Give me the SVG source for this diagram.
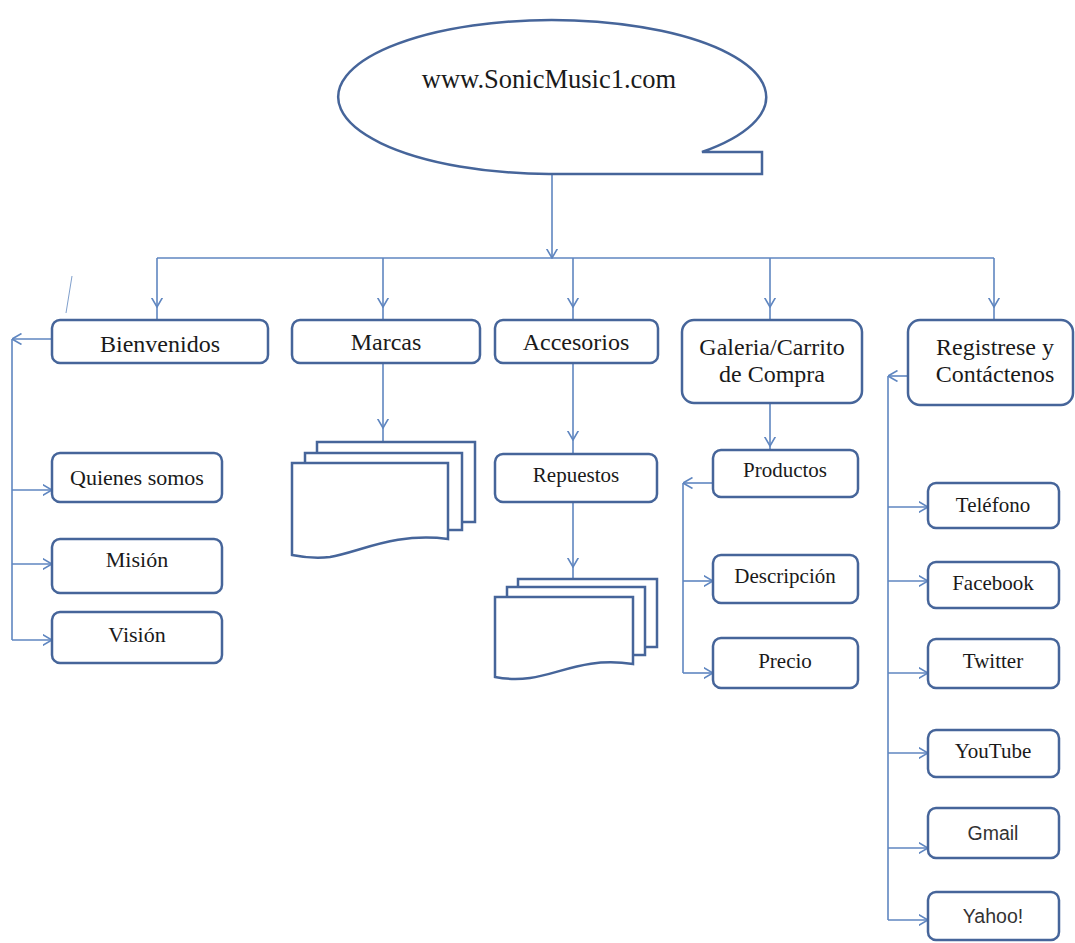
<svg xmlns="http://www.w3.org/2000/svg" width="1075" height="943" viewBox="0 0 1075 943">
<style>
.box{fill:#fff;stroke:#46659a;stroke-width:2.5}
.doc{fill:#fff;stroke:#46659a;stroke-width:2.5;stroke-linejoin:miter}
.ln{fill:none;stroke:#5f86c0;stroke-width:1.6}
.t{font-family:"Liberation Serif","Times New Roman",serif;fill:#1a1a1a;text-anchor:middle}
.top{font-size:24px}
.sub{font-size:21px}
.l{font-size:22px}
.s{font-family:"Liberation Sans",Arial,sans-serif;font-size:19.5px;fill:#333;text-anchor:middle}
</style>
<defs>
<marker id="arr" viewBox="0 0 10 12" refX="9.5" refY="6" markerWidth="10" markerHeight="12" markerUnits="userSpaceOnUse" orient="auto">
<path d="M0,0.5 L9.5,6 L0,11.5" fill="none" stroke="#5f86c0" stroke-width="1.6"/>
</marker>
</defs>
<rect width="1075" height="943" fill="#fff"/>
<g id="connectors">
<path class="ln" d="M552,174 V258" marker-end="url(#arr)"/>
<path class="ln" d="M157,258 H994"/>
<path class="ln" d="M157,258 V307 V320" marker-mid="url(#arr)"/>
<path class="ln" d="M383,258 V307 V320" marker-mid="url(#arr)"/>
<path class="ln" d="M573,258 V307 V320" marker-mid="url(#arr)"/>
<path class="ln" d="M770,258 V307 V320" marker-mid="url(#arr)"/>
<path class="ln" d="M994,258 V307 V320" marker-mid="url(#arr)"/>
<path class="ln" d="M383,363 V428 V442" marker-mid="url(#arr)"/>
<path class="ln" d="M573,363 V440 V454" marker-mid="url(#arr)"/>
<path class="ln" d="M573,502 V567 V579" marker-mid="url(#arr)"/>
<path class="ln" d="M770,403 V446 V450" marker-mid="url(#arr)"/>
<path class="ln" d="M52,339 H12" marker-end="url(#arr)"/>
<path class="ln" d="M12,339 V640"/>
<path class="ln" d="M12,490 H52" marker-end="url(#arr)"/>
<path class="ln" d="M12,564 H52" marker-end="url(#arr)"/>
<path class="ln" d="M12,640 H52" marker-end="url(#arr)"/>
<path class="ln" d="M713,483 H683" marker-end="url(#arr)"/>
<path class="ln" d="M683,483 V673"/>
<path class="ln" d="M683,581 H713" marker-end="url(#arr)"/>
<path class="ln" d="M683,673 H713" marker-end="url(#arr)"/>
<path class="ln" d="M908,376 H888" marker-end="url(#arr)"/>
<path class="ln" d="M888,376 V920"/>
<path class="ln" d="M888,507 H928" marker-end="url(#arr)"/>
<path class="ln" d="M888,581 H928" marker-end="url(#arr)"/>
<path class="ln" d="M888,673 H928" marker-end="url(#arr)"/>
<path class="ln" d="M888,753 H928" marker-end="url(#arr)"/>
<path class="ln" d="M888,848 H928" marker-end="url(#arr)"/>
<path class="ln" d="M888,920 H928" marker-end="url(#arr)"/>
<line x1="72" y1="276" x2="66" y2="313" stroke="#7f9fcc" stroke-width="1"/>
</g>
<g id="sonicmusic">
<path class="box" d="M549,174 A214,77 0 1 1 702,152 L762,152 L762,174 Z"/>
<text class="t" x="549" y="88" font-size="26.5">www.SonicMusic1.com</text>
</g>
<g id="bienvenidos"><rect class="box" x="52" y="320" width="216" height="43" rx="8"/><text class="t top" x="160" y="352">Bienvenidos</text></g>
<g id="marcas"><rect class="box" x="292" y="320" width="188" height="43" rx="8"/><text class="t top" x="386" y="350">Marcas</text></g>
<g id="accesorios"><rect class="box" x="495" y="320" width="163" height="43" rx="8"/><text class="t top" x="576" y="350">Accesorios</text></g>
<g id="galeria"><rect class="box" x="682" y="320" width="180" height="83" rx="12"/><text class="t top" x="772" y="355">Galeria/Carrito</text><text class="t top" x="772" y="382">de Compra</text></g>
<g id="registrese"><rect class="box" x="908" y="320" width="165" height="85" rx="12"/><text class="t top" x="995" y="355">Registrese y</text><text class="t top" x="995" y="382">Contáctenos</text></g>
<g id="quienes"><rect class="box" x="52" y="453" width="170" height="49" rx="8"/><text class="t l" x="137" y="485">Quienes somos</text></g>
<g id="mision"><rect class="box" x="52" y="539" width="170" height="54" rx="8"/><text class="t l" x="137" y="567">Misión</text></g>
<g id="vision"><rect class="box" x="52" y="612" width="170" height="51" rx="8"/><text class="t l" x="137" y="642">Visión</text></g>
<g id="marcas-docs">
<rect class="doc" x="317" y="442" width="158" height="80"/>
<rect class="doc" x="305" y="453" width="157" height="77"/>
<path class="doc" d="M292,463 H448 V539 C 395,532 360,552 330,557 C 315,559 302,557 292,555 Z"/>
</g>
<g id="repuestos"><rect class="box" x="495" y="454" width="162" height="48" rx="8"/><text class="t sub" x="576" y="482">Repuestos</text></g>
<g id="repuestos-docs">
<rect class="doc" x="518" y="579" width="139" height="68"/>
<rect class="doc" x="507" y="587" width="138" height="68"/>
<path class="doc" d="M495,597 H633 V664 C 585,657 560,674 530,678 C 515,680 505,679 495,677 Z"/>
</g>
<g id="productos"><rect class="box" x="713" y="450" width="145" height="47" rx="8"/><text class="t sub" x="785" y="477">Productos</text></g>
<g id="descripcion"><rect class="box" x="713" y="555" width="145" height="48" rx="8"/><text class="t sub" x="785" y="583">Descripción</text></g>
<g id="precio"><rect class="box" x="713" y="638" width="145" height="50" rx="8"/><text class="t sub" x="785" y="668">Precio</text></g>
<g id="telefono"><rect class="box" x="928" y="483" width="131" height="45" rx="8"/><text class="t sub" x="993" y="512">Teléfono</text></g>
<g id="facebook"><rect class="box" x="928" y="562" width="131" height="46" rx="8"/><text class="t sub" x="993" y="590">Facebook</text></g>
<g id="twitter"><rect class="box" x="928" y="639" width="131" height="49" rx="8"/><text class="t sub" x="993" y="668">Twitter</text></g>
<g id="youtube"><rect class="box" x="928" y="730" width="131" height="47" rx="8"/><text class="t sub" x="993" y="758">YouTube</text></g>
<g id="gmail"><rect class="box" x="928" y="808" width="131" height="50" rx="8"/><text class="s" x="993" y="840">Gmail</text></g>
<g id="yahoo"><rect class="box" x="928" y="892" width="131" height="48" rx="8"/><text class="s" x="993" y="923">Yahoo!</text></g>
</svg>
